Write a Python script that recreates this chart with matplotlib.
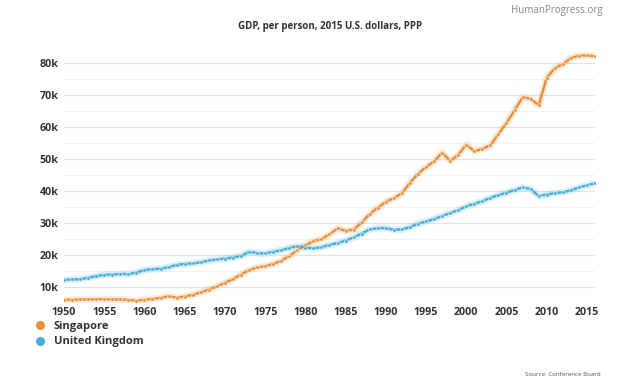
import numpy as np
import matplotlib.pyplot as plt
from matplotlib.lines import Line2D

plt.rcParams['font.family'] = ['Open Sans', 'DejaVu Sans']

# anos e PIB por pessoa (milhares de USD 2015, PPP)
years = list(range(1950, 2017))
singapore = [6.0, 6.0, 6.1, 6.1, 6.2, 6.2, 6.1, 6.1, 6.0, 5.7,
             6.0, 6.3, 6.6, 7.1, 6.7, 7.0, 7.6, 8.3, 9.2, 10.2,
             11.3, 12.5, 13.9, 15.3, 16.1, 16.5, 17.2, 18.2, 19.7, 21.5,
             23.1, 24.3, 25.0, 26.5, 28.3, 27.6, 27.9, 30.2, 32.8, 34.8,
             36.6, 37.8, 39.3, 42.6, 45.4, 47.5, 49.3, 52.0, 49.4, 51.3,
             54.5, 52.4, 53.2, 54.3, 57.8, 61.3, 65.2, 69.3, 68.8, 66.8,
             75.4, 78.4, 79.6, 81.6, 82.3, 82.4, 82.1]
uk = [12.2, 12.4, 12.4, 12.9, 13.4, 13.8, 13.9, 14.1, 14.0, 14.5,
      15.3, 15.6, 15.7, 16.2, 16.9, 17.2, 17.4, 17.7, 18.3, 18.6,
      18.9, 19.2, 19.7, 21.0, 20.6, 20.5, 21.0, 21.5, 22.2, 22.8,
      22.3, 22.1, 22.4, 23.2, 23.7, 24.5, 25.5, 26.7, 28.0, 28.4,
      28.4, 27.9, 28.0, 28.7, 29.8, 30.5, 31.2, 32.2, 33.1, 34.0,
      35.2, 36.0, 36.8, 37.9, 38.7, 39.5, 40.3, 41.1, 40.6, 38.4,
      38.9, 39.3, 39.6, 40.2, 41.1, 41.8, 42.4]
series_names = ['Singapore', 'United Kingdom']
colors = ['#e8923e', '#4aaed8']
x_ticks = list(range(1950, 2020, 5))
y_ticks = list(range(10, 90, 10))

fig = plt.figure(figsize=(6.24, 3.86), dpi=100)
ax = fig.add_axes([64 / 624, 83 / 386, 531 / 624, 256 / 386])

for vals, name, c in zip([singapore, uk], series_names, colors):
    v = np.array(vals) * 1000
    ax.plot(years, v, color=c, lw=5, alpha=0.18, solid_capstyle='round', zorder=2)
    ax.plot(years, v, color=c, lw=1.8, marker='o', ms=2.6, mfc=c, mec='white',
            mew=0.4, zorder=3)

ax.set_xlim(1950, 2016)
ax.set_ylim(5000, 85000)
ax.set_xticks(x_ticks)
ax.set_yticks([t * 1000 for t in y_ticks])
ax.set_yticklabels([f'{t}k' for t in y_ticks])
ax.set_yticks(range(15000, 85000, 10000), minor=True)
ax.grid(axis='y', which='major', color='#e3e3e3', lw=0.9)
ax.grid(axis='y', which='minor', color='#f2f2f2', lw=0.7)
ax.set_axisbelow(True)
for s in ax.spines.values():
    s.set_visible(False)
ax.tick_params(which='both', length=0)
ax.tick_params(labelsize=7.7, colors='#333333', pad=4)
ax.tick_params(axis='x', pad=3)
for lab in ax.get_xticklabels() + ax.get_yticklabels():
    lab.set_fontweight('bold')

fig.text(330 / 624, 1 - 27 / 386, 'GDP, per person, 2015 U.S. dollars, PPP',
         ha='center', va='center', fontsize=7.0, fontweight='bold', color='#333333')
fig.text(603 / 624, 1 - 10 / 386, 'HumanProgress.org', ha='right', va='center',
         fontsize=7, color='#888888')
fig.text(601 / 624, 1 - 374 / 386, 'Source: Conference Board', ha='right',
         va='center', fontsize=4.5, color='#555555')

handles = [Line2D([], [], ls='none', marker='o', ms=5.5, mfc=c, mec=c) for c in colors]
leg = fig.legend(handles, series_names, loc='upper left',
                 bbox_to_anchor=(24 / 624, 1 - 311 / 386), frameon=False,
                 fontsize=8, handletextpad=0.8, labelspacing=0.4,
                 handlelength=1.0)
for t in leg.get_texts():
    t.set_fontweight('bold')
    t.set_color('#333333')

fig.savefig('out.png', dpi=100, facecolor='white')
